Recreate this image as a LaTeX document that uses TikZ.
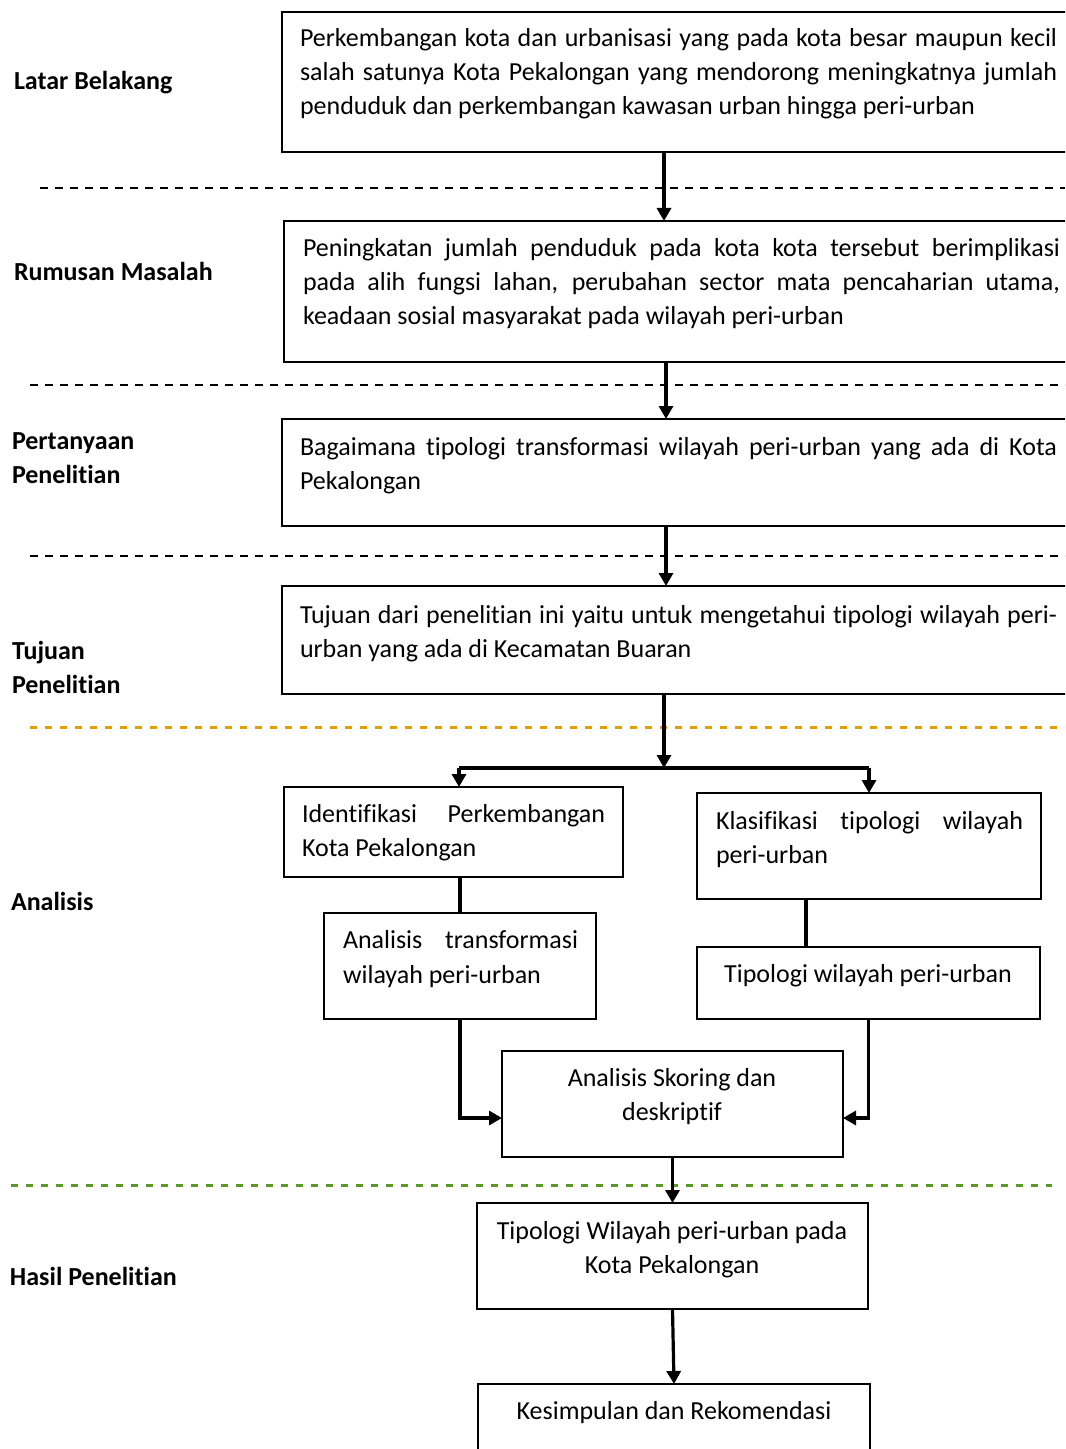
\documentclass[tikz,border=0pt]{standalone}
\usepackage{fontspec}
\setmainfont{Carlito}[RawFeature={-liga}]
\usetikzlibrary{arrows.meta,calc}
\definecolor{orangeline}{HTML}{E0A000}
\definecolor{greenline}{HTML}{5A9A2A}
\tikzset{
 boxst/.style={draw=black, line width=0.8pt, rectangle, inner sep=0pt, outer sep=0pt, anchor=north west},
 txt/.style={inner sep=0pt, outer sep=0pt, font=\fontsize{13pt}{17pt}\selectfont, anchor=base west},
 ctxt/.style={txt, anchor=base},
 lbl/.style={txt, font=\fontsize{13pt}{17pt}\selectfont\bfseries},
 arr/.style={line width=1.6pt, -{Triangle[length=6.5pt,width=7pt]}},
 conn/.style={line width=1.6pt},
 sepk/.style={line width=0.75pt, dash pattern=on 4pt off 3.5pt},
 sepo/.style={orangeline, line width=1.5pt, dash pattern=on 3.5pt off 4pt},
 sepg/.style={greenline, line width=1.5pt, dash pattern=on 3.5pt off 4pt},
}
\newcommand\mkbox[5]{\node[boxst, minimum width={(#4-#2)*0.5pt}, minimum height={(#5-#3)*0.5pt}] (#1) at (#2,#3) {};}
\newcommand\jline[5]{\node[txt] (#1) at (#2,#3) {\makebox[#4][s]{#5}};}
\begin{document}
\begin{tikzpicture}[x=0.5pt,y=-0.5pt]
\useasboundingbox (0,0) rectangle (1065,1449);
\clip (0,0) rectangle (1065,1449);

% separators
\draw[sepk] (40,188) -- (1065,188);
\draw[sepk] (30,385) -- (1065,385);
\draw[sepk] (30,556) -- (1065,556);
\draw[sepo] (30,727) -- (1065,727);
\draw[sepg] (11,1185) -- (1052,1185);

% boxes
\mkbox{b1}{282}{12}{1085}{152}
\mkbox{b2}{284}{221}{1085}{362}
\mkbox{b3}{282}{419}{1085}{526}
\mkbox{b4}{282}{586}{1085}{694}
\mkbox{b5}{284}{787}{623}{877}
\mkbox{b6}{697}{793}{1041}{899}
\mkbox{b7}{324}{913}{596}{1019}
\mkbox{b8}{697}{947}{1040}{1019}
\mkbox{b9}{502}{1051}{843}{1157}
\mkbox{b10}{477}{1203}{868}{1309}
\mkbox{b11}{478}{1384}{870}{1480}

% labels
\node[lbl] (l1) at (14,90) {Latar Belakang};
\node[lbl] (l2) at (14,281) {Rumusan Masalah};
\node[lbl] (l3a) at (12,449) {Pertanyaan};
\node[lbl] (l3b) at (12,483) {Penelitian};
\node[lbl] (l4a) at (12,659) {Tujuan};
\node[lbl] (l4b) at (12,693) {Penelitian};
\node[lbl] (l5) at (11,910) {Analisis};
\node[lbl] (l6) at (10,1285) {Hasil Penelitian};

% box texts
\jline{t1a}{300}{47}{378.5pt}{Perkembangan kota dan urbanisasi yang pada kota besar maupun kecil}
\jline{t1b}{300}{81}{378.5pt}{salah satunya Kota Pekalongan yang mendorong meningkatnya jumlah}
\node[txt] (t1c) at (300,115) {penduduk dan perkembangan kawasan urban hingga peri-urban};

\jline{t2a}{303}{257}{378.5pt}{Peningkatan jumlah penduduk pada kota kota tersebut berimplikasi}
\jline{t2b}{303}{291}{378.5pt}{pada alih fungsi lahan, perubahan sector mata pencaharian utama,}
\node[txt] (t2c) at (303,325) {keadaan sosial masyarakat pada wilayah peri-urban};

\jline{t3a}{300}{455}{378.5pt}{Bagaimana tipologi transformasi wilayah peri-urban yang ada di Kota}
\node[txt] (t3b) at (300,489) {Pekalongan};

\jline{t4a}{300}{623}{378.5pt}{Tujuan dari penelitian ini yaitu untuk mengetahui tipologi wilayah peri-}
\node[txt] (t4b) at (300,657) {urban yang ada di Kecamatan Buaran};

\jline{t5a}{302}{822}{151.5pt}{Identifikasi Perkembangan}
\node[txt] (t5b) at (302,856) {Kota Pekalongan};

\jline{t6a}{716}{829}{153.5pt}{Klasifikasi tipologi wilayah}
\node[txt] (t6b) at (716,863) {peri-urban};

\jline{t7a}{343}{948}{117.5pt}{Analisis transformasi}
\node[txt] (t7b) at (343,983) {wilayah peri-urban};

\node[ctxt] (t8) at (868,982) {Tipologi wilayah peri-urban};
\node[ctxt] (t9a) at (672,1086) {Analisis Skoring dan};
\node[ctxt] (t9b) at (672,1120) {deskriptif};
\node[ctxt] (t10a) at (672,1239) {Tipologi Wilayah peri-urban pada};
\node[ctxt] (t10b) at (672,1273) {Kota Pekalongan};
\node[ctxt] (t11) at (674,1419) {Kesimpulan dan Rekomendasi};

% connectors
\draw[arr] ([xshift=191pt]b1.south west) -- ([xshift=191pt]b1.south west |- b2.north);
\draw[arr] ([xshift=191pt]b2.south west) -- ([xshift=191pt]b2.south west |- b3.north);
\draw[arr] ([xshift=192pt]b3.south west) -- ([xshift=192pt]b3.south west |- b4.north);
\coordinate (j) at ([xshift=191pt,yshift=-37pt]b4.south west);
\coordinate (jl) at ([xshift=87.5pt]b5.north west |- j);
\coordinate (jr) at (b6.north |- j);
\draw[arr] ([xshift=191pt]b4.south west) -- (j);
\draw[line width=2pt] (jl) -- (jr);
\draw[arr] (jl) -- ([xshift=87.5pt]b5.north west);
\draw[arr] (jr) -- (b6.north);
\draw[conn] (b7.north |- b5.south) -- (b7.north);
\draw[conn] ([xshift=54.5pt]b6.south west) -- ([xshift=54.5pt]b6.south west |- b8.north);
\draw[arr] (b7.south) |- ([yshift=-7pt]b9.west);
\draw[arr] (b8.south) |- ([yshift=-7pt]b9.east);
\draw[arr] (b9.south) -- (b9.south |- b10.north);
\draw[arr] (b10.south) -- (b11.north);
\end{tikzpicture}
\end{document}
